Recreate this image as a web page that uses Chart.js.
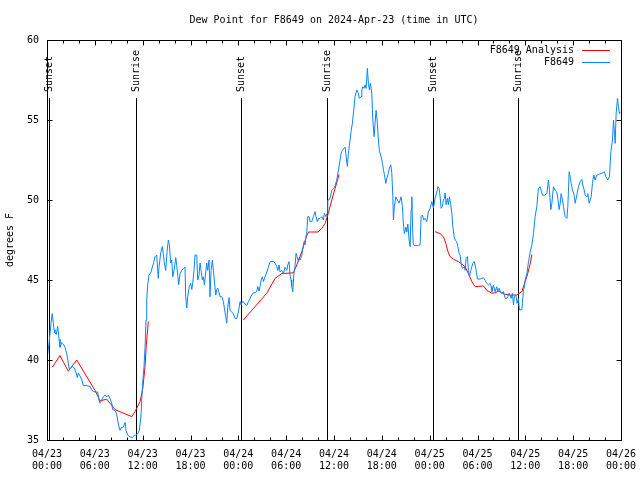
<!DOCTYPE html>
<html>
<head>
<meta charset="utf-8">
<script src="https://cdn.jsdelivr.net/npm/chart.js@4.4.1/dist/chart.umd.min.js"></script>
<style>
  html, body { margin: 0; padding: 0; background: #fff; }
</style>
</head>
<body>
<canvas id="grafico_orvalho" width="640" height="480"></canvas>
<script>
// horas desde 2024-04-23 00:00 UTC
const horasEstacao = [
	0.06, 0.25, 0.50, 0.66, 0.79, 0.88, 1.00, 1.17, 1.34, 1.51, 1.63, 1.84, 2.05, 2.26, 2.47, 2.67, 2.80, 3.01, 3.17, 3.43,
	3.64, 3.80, 3.93, 4.14, 4.35, 4.55, 4.98, 5.40, 5.61, 6.02, 6.36, 6.52, 6.65, 6.86, 7.06, 7.28, 7.49, 7.69, 7.90, 8.12,
	8.24, 8.53, 8.75, 8.95, 9.16, 9.37, 9.57, 9.79, 9.91, 10.13, 10.41, 10.70, 10.95, 11.13, 11.38, 11.58, 11.79, 11.88, 12.01, 12.17,
	12.30, 12.42, 12.51, 12.63, 12.80, 13.05, 13.21, 13.39, 13.55, 13.76, 13.96, 14.05, 14.27, 14.47, 14.59, 14.72, 14.89, 15.06, 15.22, 15.35,
	15.52, 15.65, 15.77, 15.93, 16.15, 16.27, 16.40, 16.52, 16.69, 16.90, 17.10, 17.31, 17.40, 17.53, 17.65, 17.85, 18.03, 18.16, 18.28, 18.44,
	18.57, 18.78, 18.91, 19.07, 19.20, 19.32, 19.49, 19.61, 19.74, 19.91, 20.04, 20.16, 20.33, 20.45, 20.58, 20.74, 20.87, 20.99, 21.17, 21.29,
	21.42, 21.58, 21.71, 21.92, 22.12, 22.25, 22.42, 22.55, 22.67, 22.84, 22.96, 23.17, 23.38, 23.59, 23.80, 24.00, 24.22, 24.34, 24.50, 24.63,
	24.84, 25.06, 25.26, 25.47, 25.68, 25.88, 26.10, 26.31, 26.44, 26.60, 26.73, 26.85, 27.01, 27.14, 27.35, 27.57, 27.77, 27.98, 28.39, 28.61,
	28.82, 28.95, 29.11, 29.23, 29.45, 29.65, 29.86, 30.08, 30.20, 30.36, 30.49, 30.61, 30.70, 30.83, 30.95, 31.12, 31.24, 31.37, 31.53, 31.66,
	31.74, 31.96, 32.08, 32.25, 32.37, 32.50, 32.58, 32.71, 32.87, 33.00, 33.21, 33.41, 33.63, 33.75, 33.91, 34.04, 34.25, 34.47, 34.67, 34.79,
	34.97, 35.13, 35.22, 35.38, 35.55, 35.72, 35.92, 36.14, 36.35, 36.55, 36.76, 36.89, 37.05, 37.26, 37.39, 37.52, 37.68, 37.80, 38.02, 38.14,
	38.31, 38.52, 38.64, 38.86, 39.06, 39.18, 39.40, 39.49, 39.61, 39.77, 39.90, 40.02, 40.19, 40.31, 40.44, 40.57, 40.74, 40.87, 41.03, 41.15,
	41.28, 41.41, 41.57, 41.69, 41.91, 42.07, 42.20, 42.32, 42.50, 42.62, 42.82, 42.95, 43.12, 43.25, 43.38, 43.45, 43.58, 43.75, 43.95, 44.17,
	44.42, 44.58, 44.70, 44.83, 45.01, 45.13, 45.26, 45.42, 45.55, 45.67, 45.76, 45.88, 45.96, 46.17, 46.59, 46.80, 46.93, 47.09, 47.26, 47.43,
	47.64, 47.84, 48.06, 48.27, 48.47, 48.68, 48.90, 49.02, 49.18, 49.31, 49.44, 49.60, 49.72, 49.85, 49.94, 50.06, 50.23, 50.35, 50.48, 50.65,
	50.78, 50.90, 51.07, 51.19, 51.40, 51.53, 51.69, 51.82, 51.94, 52.11, 52.36, 52.45, 52.57, 52.74, 52.86, 52.99, 53.16, 53.29, 53.41, 53.58,
	53.70, 53.83, 53.99, 54.33, 54.54, 54.74, 54.96, 55.17, 55.37, 55.58, 55.71, 55.80, 56.00, 56.21, 56.42, 56.55, 56.71, 56.96, 57.25, 57.47,
	57.68, 57.80, 57.97, 58.22, 58.38, 58.51, 58.63, 58.81, 58.97, 59.13, 59.26, 59.56, 59.64, 59.76, 59.89, 59.98, 60.19, 60.39, 60.52, 60.64,
	60.82, 61.02, 61.23, 61.44, 61.64, 61.86, 61.98, 62.15, 62.40, 62.70, 62.90, 63.03, 63.20, 63.33, 63.53, 63.74, 63.95, 64.08, 64.24, 64.37,
	64.49, 64.66, 64.78, 64.99, 65.21, 65.33, 65.50, 65.62, 65.75, 65.91, 66.12, 66.25, 66.46, 66.66, 66.87, 67.09, 67.21, 67.38, 67.50, 67.72,
	67.84, 68.00, 68.26, 68.42, 68.59, 68.76, 68.97, 69.17, 69.60, 69.92, 70.10, 70.35, 70.55, 70.73, 70.93, 71.06, 71.18, 71.27, 71.39, 71.56,
	71.68, 71.81, 71.89];

const orvalhoEstacao = [
	40.3, 41.0, 42.3, 42.9, 42.3, 41.9, 41.7, 41.6, 42.1, 41.3, 40.8, 41.1, 41.0, 40.8, 40.4, 39.8, 39.4, 39.5, 39.6, 39.5,
	39.2, 38.9, 39.2, 39.0, 38.8, 38.4, 38.4, 38.35, 38.1, 38.0, 38.0, 37.5, 37.3, 37.5, 37.7, 37.8, 37.7, 37.8, 37.6, 37.3,
	36.9, 36.85, 36.6, 36.0, 35.6, 35.8, 35.8, 36.1, 35.6, 35.3, 35.2, 35.15, 35.3, 35.3, 35.4, 35.6, 36.5, 37.5, 38.6, 39.6,
	40.8, 42.5, 43.75, 44.7, 45.3, 45.5, 45.8, 46.1, 46.45, 46.56, 45.1, 45.8, 46.7, 47.1, 46.6, 46.06, 45.6, 46.77, 47.5, 47.2,
	46.06, 46.25, 45.2, 45.6, 46.4, 45.9, 45.3, 44.7, 45.4, 45.6, 45.7, 45.8, 43.95, 43.25, 43.95, 44.6, 44.8, 44.4, 44.8, 45.6,
	46.56, 46.56, 45.0, 45.3, 46.06, 45.6, 45.0, 45.2, 44.7, 45.5, 46.06, 45.6, 46.25, 43.95, 45.6, 46.25, 45.6, 45.0, 44.06, 44.4,
	44.5, 44.2, 43.96, 43.96, 43.65, 43.25, 42.7, 42.3, 43.3, 43.9, 43.1, 43.0, 42.9, 42.6, 42.6, 43.0, 43.65, 43.45, 43.65, 43.65,
	43.5, 43.4, 43.65, 43.85, 44.06, 44.2, 44.2, 44.3, 44.6, 44.3, 44.6, 45.0, 45.2, 44.9, 45.2, 45.5, 45.8, 46.15, 46.15, 46.05,
	45.85, 45.6, 45.94, 45.5, 45.6, 45.4, 45.8, 45.6, 45.94, 46.15, 45.3, 45.0, 44.6, 44.27, 45.3, 45.9, 46.67, 46.45, 46.15, 46.35,
	46.25, 46.55, 46.9, 47.4, 47.2, 47.8, 48.0, 48.96, 48.96, 48.65, 48.65, 48.96, 49.27, 48.96, 48.65, 48.85, 48.85, 48.96, 48.75, 49.17,
	48.96, 49.17, 50.0, 50.0, 50.2, 50.6, 50.7, 50.9, 51.25, 51.85, 52.5, 52.9, 53.1, 53.23, 53.3, 52.7, 52.1, 52.9, 53.75, 54.3,
	54.8, 55.83, 56.46, 56.88, 56.67, 56.35, 56.46, 56.88, 57.08, 56.98, 57.2, 56.98, 58.23, 57.3, 56.88, 57.3, 56.67, 55.0, 53.96, 54.8,
	55.6, 55.0, 53.75, 53.1, 52.7, 52.3, 51.9, 51.6, 51.04, 51.35, 51.67, 52.0, 52.2, 51.67, 50.2, 48.75, 49.6, 50.2, 50.0, 49.8,
	50.2, 49.6, 48.54, 47.9, 48.3, 48.0, 48.5, 47.5, 47.08, 49.4, 50.2, 47.9, 47.2, 47.15, 47.15, 47.19, 48.96, 49.06, 48.75, 48.85,
	48.65, 49.27, 49.48, 49.9, 49.5, 50.1, 50.5, 50.83, 50.73, 50.2, 49.48, 49.6, 50.0, 50.1, 50.44, 49.7, 50.1, 49.7, 50.2, 49.7,
	49.17, 48.35, 47.7, 47.5, 47.4, 47.1, 46.67, 46.56, 46.04, 45.73, 45.83, 45.6, 46.35, 46.46, 45.6, 45.2, 45.6, 45.83, 46.04, 46.15,
	45.94, 45.6, 45.06, 45.06, 45.1, 45.15, 44.98, 44.79, 44.69, 44.79, 44.58, 44.27, 44.69, 44.27, 44.58, 44.27, 44.48, 44.17, 44.27, 43.85,
	43.85, 43.96, 44.17, 43.85, 44.17, 43.44, 43.96, 44.06, 43.54, 43.85, 43.13, 43.13, 43.54, 44.38, 44.58, 45.0, 45.4, 46.1, 46.5, 46.8,
	47.2, 47.9, 48.96, 49.6, 50.73, 50.83, 50.6, 50.3, 50.3, 50.4, 51.25, 50.6, 49.4, 49.8, 50.83, 50.6, 50.5, 50.1, 49.4, 49.8,
	50.4, 50.0, 49.6, 48.96, 48.85, 49.6, 51.77, 51.46, 51.04, 50.63, 50.3, 49.8, 50.3, 50.83, 51.15, 51.29, 50.94, 50.63, 50.3, 50.2,
	50.4, 49.8, 50.2, 51.04, 51.56, 51.25, 51.56, 51.6, 51.67, 51.77, 51.46, 51.25, 51.46, 53.02, 53.75, 55.0, 54.17, 53.54, 55.4, 56.35,
	55.83, 55.4, 55.5];

// análise: null separa os trechos
const horasAnalise = [
	0.66, 1.63, 2.67, 3.73, 6.02, 6.65, 7.49, 8.30, 8.53, 10.63, 11.04, 11.67, 12.01, 12.30, 12.45, 12.71,
	18.0,
	24.63, 27.56, 28.61, 29.45, 30.90, 31.33, 31.96, 32.46, 32.79, 34.00, 34.47, 34.88, 35.29, 35.72, 36.14, 36.64,
	42.0,
	48.68, 49.31, 49.72, 50.02, 50.28, 50.57, 50.98, 51.61, 52.45, 52.86, 53.29, 53.70, 54.12, 54.74, 55.17, 55.80,
	56.21, 56.63, 57.05, 57.47, 58.10, 58.94, 59.56, 59.98, 60.19, 60.60, 60.82];

const orvalhoAnalise = [
	39.55, 40.28, 39.3, 40.0, 38.1, 37.45, 37.55, 37.05, 36.9, 36.46, 36.77, 37.4, 38.2, 39.6, 40.9, 42.4,
	null,
	42.5, 44.17, 45.1, 45.4, 45.45, 45.94, 46.77, 47.6, 48.0, 48.0, 48.23, 48.54, 49.17, 50.0, 50.73, 51.6,
	null,
	48.02, 47.9, 47.7, 47.3, 46.8, 46.46, 46.3, 46.15, 45.83, 45.4, 44.9, 44.58, 44.6, 44.63, 44.35, 44.17,
	44.2, 44.3, 44.2, 44.1, 44.06, 44.06, 44.27, 44.9, 45.2, 45.98, 46.6];

const horasSol = [0.29, 11.13, 24.38, 35.17, 48.47, 59.14];
const eventosSol = ['Sunset', 'Sunrise', 'Sunset', 'Sunrise', 'Sunset', 'Sunrise'];

const rotulosX = [
	['04/23', '00:00'], ['04/23', '06:00'], ['04/23', '12:00'], ['04/23', '18:00'],
	['04/24', '00:00'], ['04/24', '06:00'], ['04/24', '12:00'], ['04/24', '18:00'],
	['04/25', '00:00'], ['04/25', '06:00'], ['04/25', '12:00'], ['04/25', '18:00'],
	['04/26', '00:00']];

const fonteMono = "'DejaVu Sans Mono', monospace";
Chart.defaults.font.family = fonteMono;
Chart.defaults.font.size = 10;
Chart.defaults.color = '#000';

const pontos = (xs, ys) => xs.map((x, i) => ({ x: x, y: ys[i] }));

// moldura, marcas internas, linhas de nascer/pôr do sol e legenda ao estilo gnuplot
const estiloGnuplot = {
	id: 'estiloGnuplot',
	beforeDatasetsDraw(chart) {
		const ctx = chart.ctx, area = chart.chartArea, sx = chart.scales.x;
		ctx.save();
		ctx.strokeStyle = '#000';
		ctx.lineWidth = 1;
		ctx.fillStyle = '#000';
		ctx.font = '10px ' + fonteMono;
		horasSol.forEach((h, i) => {
			const px = Math.round(sx.getPixelForValue(h)) + 0.5;
			ctx.beginPath();
			ctx.moveTo(px, area.top + 58);
			ctx.lineTo(px, area.bottom);
			ctx.stroke();
			ctx.save();
			ctx.translate(px, area.top + 52);
			ctx.rotate(-Math.PI / 2);
			ctx.textAlign = 'left';
			ctx.textBaseline = 'middle';
			ctx.fillText(eventosSol[i], 0, 0);
			ctx.restore();
		});
		ctx.restore();
	},
	afterDraw(chart) {
		const ctx = chart.ctx, area = chart.chartArea;
		const sx = chart.scales.x, sy = chart.scales.y;
		const l = Math.round(area.left) + 0.5, r = Math.round(area.right) + 0.5;
		const t = Math.round(area.top) + 0.5, b = Math.round(area.bottom) + 0.5;
		ctx.save();
		ctx.strokeStyle = '#000';
		ctx.lineWidth = 1;
		ctx.beginPath();
		for (let h = 0; h <= 72; h += 2) {
			const px = Math.round(sx.getPixelForValue(h)) + 0.5;
			const len = h % 6 === 0 ? 5 : 3;
			ctx.moveTo(px, b); ctx.lineTo(px, b - len);
			ctx.moveTo(px, t); ctx.lineTo(px, t + len);
		}
		for (let v = 35; v <= 60; v += 5) {
			const py = Math.round(sy.getPixelForValue(v)) + 0.5;
			ctx.moveTo(l, py); ctx.lineTo(l + 5, py);
			ctx.moveTo(r, py); ctx.lineTo(r - 5, py);
		}
		ctx.stroke();
		ctx.strokeRect(l, t, r - l, b - t);

		// legenda
		ctx.font = '10px ' + fonteMono;
		ctx.textAlign = 'right';
		ctx.textBaseline = 'middle';
		ctx.fillStyle = '#000';
		const itens = [chart.data.datasets[1], chart.data.datasets[0]];
		itens.forEach((ds, i) => {
			const y = Math.round(area.top) + 10 + i * 12;
			ctx.fillText(ds.label, area.right - 47, y);
			ctx.strokeStyle = ds.borderColor;
			ctx.beginPath();
			ctx.moveTo(area.right - 39, y + 0.5);
			ctx.lineTo(area.right - 11, y + 0.5);
			ctx.stroke();
		});
		ctx.restore();
	}
};

let ctx = document.getElementById('grafico_orvalho').getContext('2d');

let graficoOrvalho = new Chart(ctx, {
	type: 'line',
	data: {
		datasets: [
			{
				label: 'F8649',
				data: pontos(horasEstacao, orvalhoEstacao),
				borderColor: '#0a84ff',
				borderWidth: 1,
				pointRadius: 0,
				tension: 0
			},
			{
				label: 'F8649 Analysis',
				data: pontos(horasAnalise, orvalhoAnalise),
				borderColor: '#ff0000',
				borderWidth: 1,
				pointRadius: 0,
				tension: 0,
				spanGaps: false
			}
		]
	},
	options: {
		responsive: false,
		animation: false,
		layout: { padding: { right: 19 } },
		plugins: {
			legend: { display: false },
			tooltip: { enabled: false },
			title: {
				display: true,
				text: 'Dew Point for F8649 on 2024-Apr-23 (time in UTC)',
				fullSize: false,
				color: '#000',
				font: { size: 10, weight: 'normal', family: fonteMono },
				padding: { top: 14, bottom: 14 }
			}
		},
		scales: {
			x: {
				type: 'linear',
				min: 0,
				max: 72,
				grid: { display: false, drawTicks: false },
				border: { display: false },
				ticks: {
					stepSize: 6,
					maxRotation: 0,
					autoSkip: false,
					padding: 8,
					callback: (v, i) => rotulosX[i]
				},
				afterFit: s => {
					s.height = 40;
					s.paddingLeft = 0;
					s.paddingRight = 0;
				}
			},
			y: {
				min: 35,
				max: 60,
				grid: { display: false, drawTicks: false },
				border: { display: false },
				ticks: { stepSize: 5, padding: 8 },
				title: { display: true, text: 'degrees F', padding: { top: 4, bottom: 0 } },
				afterFit: s => { s.width = 47; }
			}
		}
	},
	plugins: [estiloGnuplot]
});
</script>
</body>
</html>
